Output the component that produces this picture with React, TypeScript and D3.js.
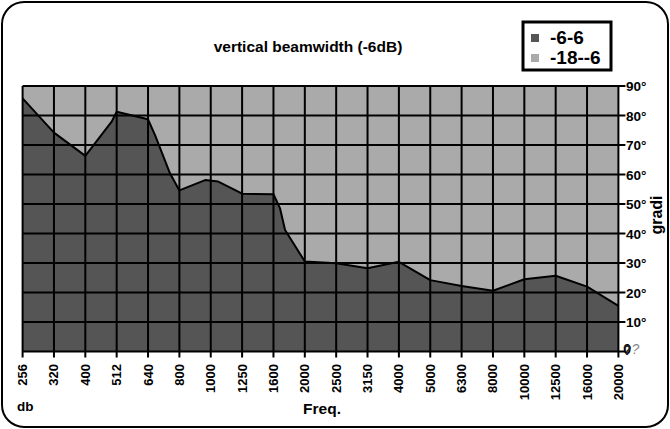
import React from 'react';
import * as d3 from 'd3';

const freqLabels = ['256','320','400','512','640','800','1000','1250','1600','2000','2500','3150','4000','5000','6300','8000','10000','12500','16000','20000'];
const degreeTicks = [0,10,20,30,40,50,60,70,80,90];
// dark series "-6-6": positions in category index units (some readings fall between categories)
const darkPos = [0,1,2,2.84,3,4,4.22,4.7,5,5.82,6.24,7,8,8.21,8.37,9,10,11,12,13,14,15,16,17,18,19];
const darkVal = [85.8,74.2,66.3,77.9,81.3,78.7,73.4,60.4,54.6,58.1,57.6,53.5,53.3,48.5,41.2,30.5,29.9,28.2,30.4,24.2,22.2,20.6,24.5,25.7,22,15.5];
// light series "-18--6": clipped at the top of the scale
const lightVal = [90,90,90,90,90,90,90,90,90,90,90,90,90,90,90,90,90,90,90,90];
const legendLabels = ['-6-6','-18--6'];
const legendColors = ['#555555','#aaaaaa'];

const W = 670, H = 429;
const FONT = '"Liberation Sans", Arial, Helvetica, sans-serif';

export default function App() {
  const x = d3.scaleLinear().domain([0, freqLabels.length - 1]).range([22.6, 618.4]);
  const y = d3.scaleLinear().domain([0, 90]).range([351.5, 86]);

  const lightArea = d3.area<number>()
    .x((_, i) => x(i))
    .y0(() => y(0))
    .y1((d) => y(d))(lightVal) as string;

  const darkPts = darkPos.map((p, i) => [p, darkVal[i]] as [number, number]);
  const darkArea = d3.area<[number, number]>()
    .x((d) => x(d[0]))
    .y0(() => y(0))
    .y1((d) => y(d[1]))(darkPts) as string;
  const darkLine = d3.line<[number, number]>()
    .x((d) => x(d[0]))
    .y((d) => y(d[1]))(darkPts) as string;

  const [x0, x1] = x.range();
  const [yb, yt] = y.range();

  return (
    <svg width={W} height={H} style={{ position: 'fixed', left: 0, top: 0, display: 'block', background: '#fff' }}>
      <rect x={2} y={2} width={666} height={425} rx={22} ry={22} fill="#fff" stroke="#000" strokeWidth={2} />
      <text x={308} y={52} textAnchor="middle" fontFamily={FONT} fontWeight="bold" fontSize={15.5}>vertical beamwidth (-6dB)</text>

      {/* legend */}
      <rect x={523} y={22} width={88} height={48} fill="#fff" stroke="#000" strokeWidth={3} />
      {legendLabels.map((l, i) => (
        <g key={l}>
          <rect x={531} y={34 + i * 20} width={8} height={8} fill={legendColors[i]} />
          <text x={550} y={44 + i * 20} fontFamily={FONT} fontWeight="bold" fontSize={19}>{l}</text>
        </g>
      ))}

      {/* areas */}
      <path d={lightArea} fill="#aaaaaa" />
      <path d={darkArea} fill="#555555" />

      {/* grid */}
      {degreeTicks.map((t) => (
        <line key={'h' + t} x1={x0} x2={x1 + 7} y1={y(t)} y2={y(t)} stroke="#000" strokeWidth={2} />
      ))}
      {freqLabels.map((f, i) => (
        <line key={'v' + f} x1={x(i)} x2={x(i)} y1={yt} y2={yb + 6} stroke="#000" strokeWidth={2} />
      ))}

      <path d={darkLine} fill="none" stroke="#000" strokeWidth={2} strokeLinejoin="round" />

      {/* right axis labels */}
      {degreeTicks.filter((t) => t > 0).map((t) => (
        <text key={'yl' + t} x={626} y={y(t) + 5} fontFamily={FONT} fontWeight="bold" fontSize={13.5}>{t}°</text>
      ))}
      <text x={623} y={354} fontFamily={FONT} fontWeight="bold" fontSize={14}>
        0<tspan dx={-8} dy={1} fill="#222">?</tspan><tspan dx={0} dy={-1} fontStyle="italic" fontWeight="normal" fill="#888">?</tspan>
      </text>
      <text transform={`translate(662,215) rotate(-90)`} textAnchor="middle" fontFamily={FONT} fontWeight="bold" fontSize={16}>gradi</text>

      {/* bottom labels */}
      {freqLabels.map((f, i) => (
        <text key={'xl' + f} transform={`translate(${x(i) + 4.5},364) rotate(-90)`} textAnchor="end" fontFamily={FONT} fontWeight="bold" fontSize={13}>{f}</text>
      ))}
      <text x={322} y={414} textAnchor="middle" fontFamily={FONT} fontWeight="bold" fontSize={15.5}>Freq.</text>
      <text x={17} y={411} fontFamily={FONT} fontWeight="bold" fontSize={13.5}>db</text>
    </svg>
  );
}
